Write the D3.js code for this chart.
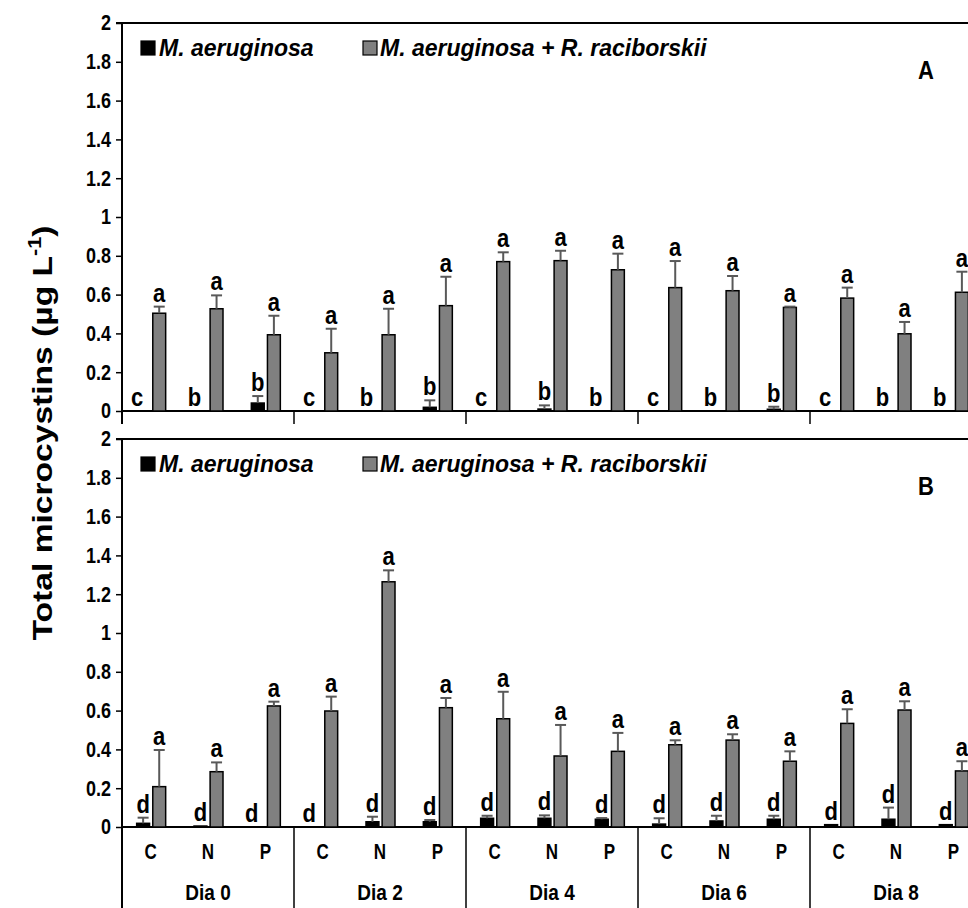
<!DOCTYPE html>
<html>
<head>
<meta charset="utf-8">
<script src="https://cdn.jsdelivr.net/npm/d3@7"></script>
<style>
  html, body { margin: 0; padding: 0; background: #fff; }
  svg { display: block; font-family: "Liberation Sans", Arial, sans-serif; }
</style>
</head>
<body>
<svg id="chart" width="968" height="908"></svg>
<script>
// ---------- data ----------
const days = ["Dia 0", "Dia 2", "Dia 4", "Dia 6", "Dia 8"];
const treatments = ["C", "N", "P"];
const yTickValues = [0, 0.2, 0.4, 0.6, 0.8, 1, 1.2, 1.4, 1.6, 1.8, 2];
const yTickLabels = ["0", "0.2", "0.4", "0.6", "0.8", "1", "1.2", "1.4", "1.6", "1.8", "2"];
const seriesNames = ["M. aeruginosa", "M. aeruginosa + R. raciborskii"];

// Panel A
const aMa      = [0, 0, 0.041,   0, 0, 0.019,   0, 0.010, 0,   0, 0, 0.009,   0, 0, 0];
const aMaErr   = [0, 0, 0.036,   0, 0, 0.036,   0, 0.019, 0,   0, 0, 0.013,   0, 0, 0];
const aMaRr    = [0.504, 0.527, 0.393,   0.300, 0.393, 0.543,   0.770, 0.775, 0.728,   0.636, 0.620, 0.534,   0.582, 0.398, 0.612];
const aMaRrErr = [0.034, 0.069, 0.098,   0.124, 0.134, 0.149,   0.048, 0.051, 0.083,   0.137, 0.076, 0.004,   0.054, 0.061, 0.106];
const aMaLetters   = ["c","b","b", "c","b","b", "c","b","b", "c","b","b", "c","b","b"];
const aMaRrLetters = ["a","a","a", "a","a","a", "a","a","a", "a","a","a", "a","a","a"];

// Panel B
const bMa      = [0.019, 0.005, 0,   0, 0.027, 0.027,   0.045, 0.045, 0.040,   0.015, 0.031, 0.040,   0.012, 0.040, 0.012];
const bMaErr   = [0.029, 0, 0,   0, 0.026, 0.009,   0.013, 0.015, 0.006,   0.030, 0.027, 0.018,   0, 0.060, 0];
const bMaRr    = [0.208, 0.285, 0.624,   0.598, 1.264, 0.615,   0.558, 0.366, 0.390,   0.424, 0.448, 0.339,   0.534, 0.603, 0.289];
const bMaRrErr = [0.189, 0.048, 0.022,   0.074, 0.059, 0.050,   0.139, 0.160, 0.095,   0.023, 0.030, 0.051,   0.073, 0.045, 0.050];
const bMaLetters   = ["d","d","d", "d","d","d", "d","d","d", "d","d","d", "d","d","d"];
const bMaRrLetters = ["a","a","a", "a","a","a", "a","a","a", "a","a","a", "a","a","a"];

// ---------- layout ----------
const svg = d3.select("#chart");
const xLeft = 122, xRight = 982;
const STRETCH = 1.2; // the reference text is drawn taller than wide
const x0 = d3.scaleBand().domain(days).range([xLeft, xRight]);
const x1 = d3.scaleBand().domain(treatments).range([0, x0.bandwidth()]);
const c1 = x1.bandwidth() / 2;
const x2 = d3.scaleBand().domain(["ma", "marr"]).range([c1 - 14, c1 + 15]).paddingInner(0.2);
const colors = { ma: "#000000", marr: "#808080" };
const errColor = "#595959";

const cells = days.flatMap((d, i) => treatments.map((t, j) => ({ day: d, t: t, k: i * 3 + j })));

function drawPanel(top, bottom, ma, maErr, marr, marrErr, maL, marrL, tag, sepBottom) {
  const y = d3.scaleLinear().domain([0, 2]).range([bottom, top]);
  const g = svg.append("g");

  g.append("line").attr("x1", xLeft - 6).attr("x2", 968).attr("y1", top).attr("y2", top)
    .attr("stroke", "#000").attr("stroke-width", 2);

  const ax = g.append("g").attr("transform", `translate(${xLeft},0)`)
    .call(d3.axisLeft(y).tickValues(yTickValues)
      .tickFormat((d, i) => yTickLabels[i]).tickSizeOuter(0).tickSize(6).tickPadding(5));
  ax.select(".domain").remove();
  ax.selectAll("line").attr("stroke", "#000").attr("stroke-width", 1.5);
  ax.selectAll("text").attr("font-size", 18).attr("font-weight", "bold").attr("fill", "#000")
    .attr("font-family", "Liberation Sans, Arial, sans-serif")
    .attr("transform", `scale(1,${STRETCH})`);
  g.append("line").attr("x1", xLeft).attr("x2", xLeft).attr("y1", top).attr("y2", sepBottom)
    .attr("stroke", "#000").attr("stroke-width", 2);

  g.append("line").attr("x1", xLeft).attr("x2", 968).attr("y1", bottom).attr("y2", bottom)
    .attr("stroke", "#000").attr("stroke-width", 2);
  g.selectAll(".sep").data(days.slice(1)).join("line")
    .attr("x1", d => x0(d)).attr("x2", d => x0(d))
    .attr("y1", bottom).attr("y2", sepBottom)
    .attr("stroke", "#000").attr("stroke-width", 1.5);

  const series = [
    { key: "ma", vals: ma, errs: maErr, letters: maL },
    { key: "marr", vals: marr, errs: marrErr, letters: marrL }
  ];

  series.forEach(s => {
    const cx = c => x0(c.day) + x1(c.t) + x2(s.key) + x2.bandwidth() / 2;
    const bars = cells.filter(c => s.vals[c.k] > 0);
    g.selectAll(".bar-" + s.key).data(bars).join("rect")
      .attr("x", c => x0(c.day) + x1(c.t) + x2(s.key))
      .attr("width", x2.bandwidth())
      .attr("y", c => y(s.vals[c.k]))
      .attr("height", c => y(0) - y(s.vals[c.k]))
      .attr("fill", colors[s.key]).attr("stroke", "#000").attr("stroke-width", 1.5);
    const eb = cells.filter(c => s.errs[c.k] > 0);
    g.selectAll(".ev-" + s.key).data(eb).join("line")
      .attr("x1", cx).attr("x2", cx)
      .attr("y1", c => y(s.vals[c.k])).attr("y2", c => y(s.vals[c.k] + s.errs[c.k]))
      .attr("stroke", errColor).attr("stroke-width", 2);
    g.selectAll(".ec-" + s.key).data(eb).join("line")
      .attr("x1", c => cx(c) - 5.5).attr("x2", c => cx(c) + 5.5)
      .attr("y1", c => y(s.vals[c.k] + s.errs[c.k])).attr("y2", c => y(s.vals[c.k] + s.errs[c.k]))
      .attr("stroke", errColor).attr("stroke-width", 2);
    g.selectAll(".lt-" + s.key).data(cells).join("text")
      .attr("transform", c => `translate(${cx(c) + (s.vals[c.k] > 0 ? 0 : -6)},${y(s.vals[c.k] + s.errs[c.k]) - 5}) scale(1,${STRETCH})`)
      .attr("text-anchor", "middle")
      .attr("font-size", 22).attr("font-weight", "bold").attr("fill", "#000")
      .text(c => s.letters[c.k]);
  });

  const ly = top + 18;
  const leg = [
    { key: "ma", x: 141, tx: 159, name: seriesNames[0] },
    { key: "marr", x: 363, tx: 380, name: seriesNames[1] }
  ];
  leg.forEach(l => {
    g.append("rect").attr("x", l.x).attr("y", ly).attr("width", 14).attr("height", 14)
      .attr("fill", colors[l.key]).attr("stroke", "#000").attr("stroke-width", 1.2);
    g.append("text").attr("x", l.tx).attr("y", ly + 15)
      .attr("font-size", 23).attr("font-weight", "bold").attr("font-style", "italic")
      .attr("fill", "#000").text(l.name);
  });

  g.append("text").attr("transform", `translate(926,${top + 56}) scale(1,1.15)`)
    .attr("text-anchor", "middle")
    .attr("font-size", 22).attr("font-weight", "bold").attr("fill", "#000").text(tag);
  return y;
}

drawPanel(23, 411, aMa, aMaErr, aMaRr, aMaRrErr, aMaLetters, aMaRrLetters, "A", 424);
drawPanel(439, 827, bMa, bMaErr, bMaRr, bMaRrErr, bMaLetters, bMaRrLetters, "B", 908);

svg.append("g").selectAll("text").data(cells).join("text")
  .attr("transform", c => `translate(${x0(c.day) + x1(c.t) + x1.bandwidth() / 2},859) scale(1,1.25)`)
  .attr("text-anchor", "middle").attr("font-size", 17).attr("font-weight", "bold").attr("fill", "#000")
  .text(c => c.t);
svg.append("g").selectAll("text").data(days).join("text")
  .attr("transform", d => `translate(${x0(d) + x0.bandwidth() / 2},900) scale(1,${STRETCH})`)
  .attr("text-anchor", "middle").attr("font-size", 19).attr("font-weight", "bold").attr("fill", "#000")
  .text(d => d);

const title = svg.append("text")
  .attr("transform", `translate(52,433) scale(1,${STRETCH}) rotate(-90)`)
  .attr("text-anchor", "middle").attr("font-size", 28).attr("font-weight", "bold").attr("fill", "#000");
title.append("tspan").text("Total microcystins (µg L");
title.append("tspan").attr("font-size", 18).attr("dy", -11).text("-1");
title.append("tspan").attr("dy", 11).text(")");
</script>
</body>
</html>
